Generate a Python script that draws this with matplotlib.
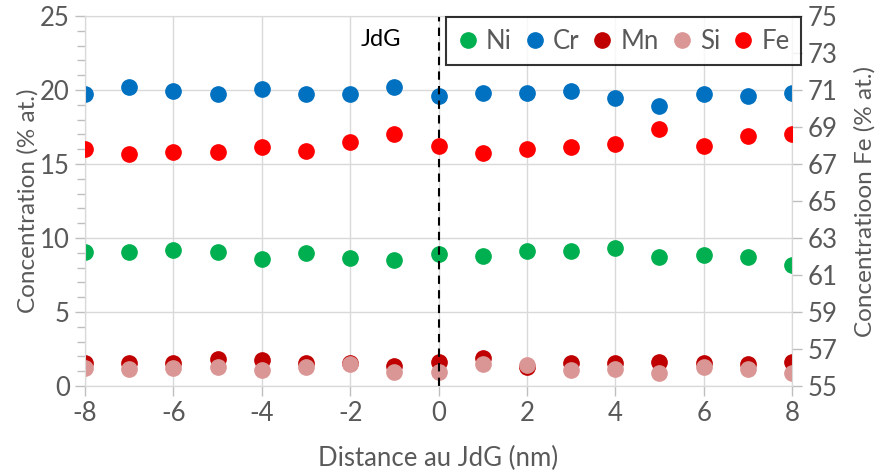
import numpy as np
import matplotlib
matplotlib.use("Agg")
import matplotlib.pyplot as plt
from matplotlib.ticker import MultipleLocator

plt.rcParams['font.family'] = ['Lato', 'DejaVu Sans']
plt.rcParams['axes.unicode_minus'] = False

# distance au joint de grains (nm)
dist = np.arange(-8, 9)

ni = [9.03, 9.03, 9.21, 9.03, 8.56, 8.96, 8.65, 8.49, 8.92,
      8.80, 9.14, 9.10, 9.30, 8.74, 8.85, 8.74, 8.15]
cr = [19.73, 20.20, 19.90, 19.75, 20.07, 19.75, 19.75, 20.20, 19.60,
      19.80, 19.80, 19.90, 19.44, 18.94, 19.75, 19.60, 19.80]
mn = [1.58, 1.53, 1.53, 1.80, 1.76, 1.53, 1.58, 1.35, 1.60,
      1.91, 1.30, 1.53, 1.53, 1.64, 1.58, 1.49, 1.64]
si = [1.20, 1.13, 1.20, 1.30, 1.08, 1.26, 1.47, 0.97, 0.97,
      1.49, 1.42, 1.08, 1.13, 0.90, 1.30, 1.13, 0.90]
fe = [67.79, 67.52, 67.66, 67.63, 67.94, 67.72, 68.17, 68.60, 67.99,
      67.58, 67.79, 67.94, 68.06, 68.89, 67.99, 68.53, 68.60]

C_NI, C_CR, C_MN, C_SI, C_FE = '#00B050', '#0070C0', '#C00000', '#DA9694', '#FF0000'
GRID = '#D9D9D9'
TXT = '#595959'
FS = 18.5

fig = plt.figure(figsize=(8.77, 4.71), dpi=100)
ax = fig.add_axes([85/877, 1 - 386/471, (792-85)/877, (386-16)/471])
ax2 = ax.twinx()

ms = 11
h_ni, = ax.plot(dist, ni, 'o', color=C_NI, ms=ms, label='Ni', zorder=3)
h_cr, = ax.plot(dist, cr, 'o', color=C_CR, ms=ms, label='Cr', zorder=3)
h_mn, = ax.plot(dist, mn, 'o', color=C_MN, ms=ms, label='Mn', zorder=3)
h_si, = ax.plot(dist, si, 'o', color=C_SI, ms=ms, label='Si', zorder=3)
h_fe, = ax2.plot(dist, fe, 'o', color=C_FE, ms=ms, label='Fe', zorder=3)

ax.axvline(0, color='k', ls=(0, (4, 3)), lw=1.5, zorder=4)
ax.text(-1.3, 23.4, 'JdG', fontsize=17, ha='center', va='center', color='k')

ax.set_xlim(-8, 8)
ax.set_ylim(0, 25)
ax2.set_ylim(55, 75)
ax.xaxis.set_major_locator(MultipleLocator(2))
ax.yaxis.set_major_locator(MultipleLocator(5))
ax.yaxis.set_minor_locator(MultipleLocator(1))
ax2.set_yticks(np.arange(55, 76, 2))

ax.grid(True, which='major', color=GRID, lw=1)
ax.set_axisbelow(True)
for a in (ax, ax2):
    for s in a.spines.values():
        s.set_color(GRID)
    a.tick_params(which='both', colors='#BFBFBF', labelcolor=TXT,
                  labelsize=FS, length=7, width=1, pad=4)
ax.tick_params(axis='y', which='minor', length=6)

ax.set_xlabel('Distance au JdG (nm)', fontsize=FS, color=TXT, labelpad=14)
ax.set_ylabel('Concentration (% at.)', fontsize=17.5, color=TXT, labelpad=1)
ax2.set_ylabel('Concentratioon Fe (% at.)', fontsize=17.5, color=TXT, labelpad=12)

leg = fig.legend(handles=[h_ni, h_cr, h_mn, h_si, h_fe], ncol=5,
                 loc='upper right', bbox_to_anchor=(801/877, 1 - 17/471),
                 fontsize=FS, frameon=True, fancybox=False, handletextpad=0.3,
                 columnspacing=0.5, handlelength=0.8, borderpad=0.45,
                 borderaxespad=0, markerscale=1.0)
leg.get_frame().set_edgecolor('k')
leg.get_frame().set_linewidth(1.5)
for t in leg.get_texts():
    t.set_color(TXT)

fig.savefig('out.png', dpi=100)
